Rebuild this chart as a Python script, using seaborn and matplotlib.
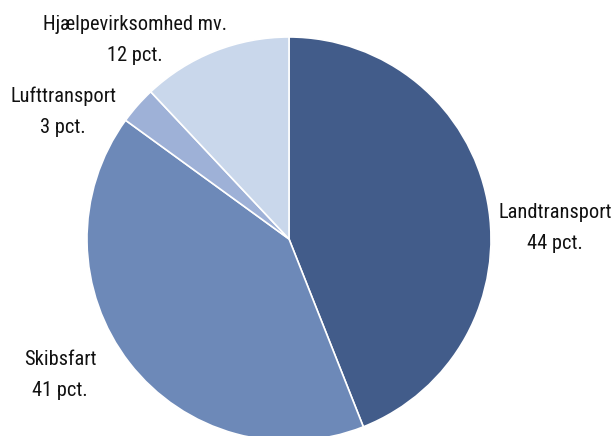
import matplotlib
matplotlib.use("Agg")
import matplotlib.pyplot as plt
import seaborn as sns

# Data
categories = ["Landtransport", "Skibsfart", "Lufttransport", "Hjælpevirksomhed mv."]
shares = [44, 41, 3, 12]
colors = ["#425C8A", "#6D89B8", "#9EB1D7", "#C9D7EB"]

# label anchor points (pixel coords, y from top)
label_pos = [(555, 228), (60, 375), (63, 112), (135, 40)]

sns.set_theme(style="white")
plt.rcParams["font.family"] = ["Roboto Condensed", "Roboto", "DejaVu Sans"]

W, H = 614, 436
fig = plt.figure(figsize=(W / 100, H / 100), dpi=100)
ax = fig.add_axes([0, 0, 1, 1])

ax.pie(shares, colors=colors, startangle=90, counterclock=False,
       center=(289, H - 239), radius=202,
       wedgeprops=dict(edgecolor="white", linewidth=1.2), frame=True)
ax.set_xlim(0, W)
ax.set_ylim(0, H)
ax.set_aspect("equal")
ax.axis("off")

for name, val, (x, y) in zip(categories, shares, label_pos):
    ax.text(x, H - y, f"{name}\n{val} pct.", ha="center", va="center",
            fontsize=14.7, color="#111111", linespacing=1.8)

fig.savefig("out.png", dpi=100)
